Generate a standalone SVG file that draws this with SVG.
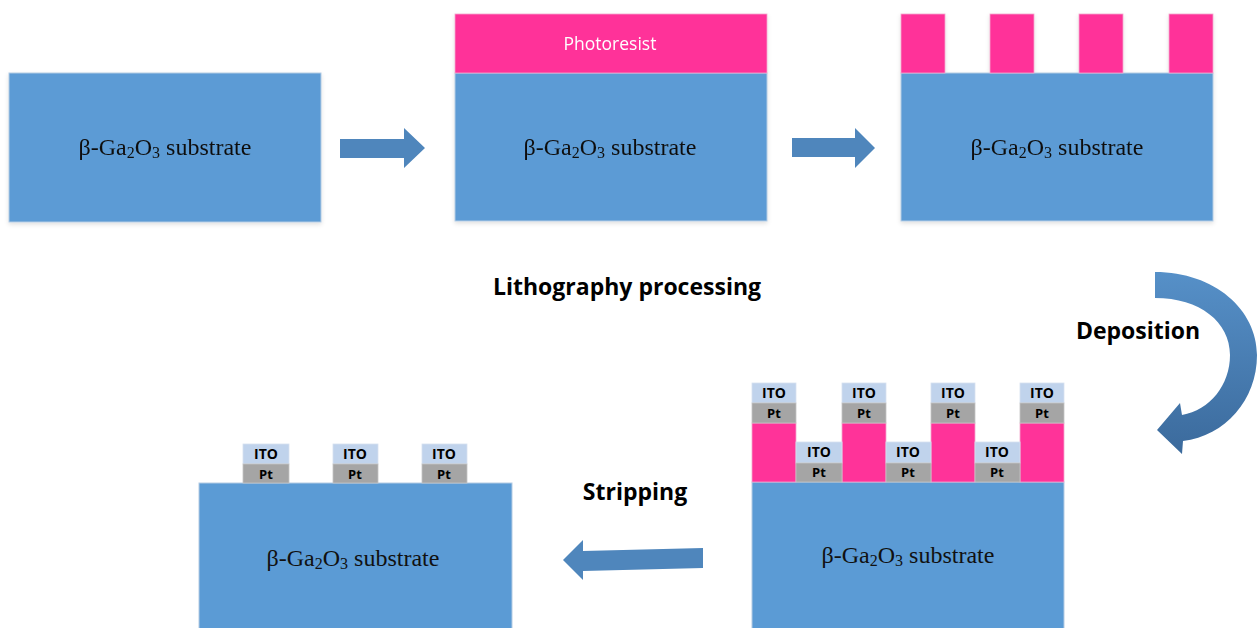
<svg xmlns="http://www.w3.org/2000/svg" width="1257" height="628" viewBox="0 0 1257 628">
<defs>
<style>
.sub{fill:#5B9BD5;stroke:#B4CBE3;stroke-width:1}
.pr{fill:#FF3399;stroke:#F2A6CC;stroke-width:0.8}
.ito{fill:#C0D3EC;stroke:#D6E1EF;stroke-width:0.8}
.pt{fill:#A5A5A5;stroke:#C4C4C4;stroke-width:0.8}
.st{font-family:"Liberation Serif","Times New Roman",serif;font-size:24px;fill:#111;text-anchor:middle}
.st tspan.s{font-size:16px}
.lb{font-family:"Open Sans","Liberation Sans",sans-serif;font-weight:bold;font-size:23px;fill:#000}
.it{font-family:"Open Sans","Liberation Sans",sans-serif;font-weight:bold;font-size:14px;fill:#000;text-anchor:middle}
.pl{font-family:"Open Sans","Liberation Sans",sans-serif;font-weight:bold;font-size:13px;fill:#000;text-anchor:middle}
.arr{fill:#4F86BC}
</style>
<filter id="sh" x="-5%" y="-5%" width="110%" height="115%">
<feDropShadow dx="0" dy="2" stdDeviation="2" flood-color="#000" flood-opacity="0.12"/>
</filter>
<linearGradient id="cg" x1="0" y1="0" x2="0" y2="1">
<stop offset="0" stop-color="#5690C8"/>
<stop offset="1" stop-color="#3B6A9C"/>
</linearGradient>
</defs>

<g id="step1" filter="url(#sh)">
<rect class="sub" x="9" y="73" width="312" height="149"/>
<text class="st" x="165" y="155">β-Ga<tspan class="s" dy="3">2</tspan><tspan dy="-3">O</tspan><tspan class="s" dy="3">3</tspan><tspan dy="-3"> substrate</tspan></text>
</g>

<g id="step2" filter="url(#sh)">
<rect class="sub" x="455" y="73" width="312" height="148"/>
<rect class="pr" x="455" y="14" width="312" height="59"/>
<text x="610" y="50" font-family="'Open Sans','Liberation Sans',sans-serif" font-size="17.5" fill="#fff" text-anchor="middle">Photoresist</text>
<text class="st" x="610" y="155">β-Ga<tspan class="s" dy="3">2</tspan><tspan dy="-3">O</tspan><tspan class="s" dy="3">3</tspan><tspan dy="-3"> substrate</tspan></text>
</g>

<g id="step3" filter="url(#sh)">
<rect class="sub" x="901" y="73" width="312" height="148"/>
<rect class="pr" x="901" y="14" width="44" height="59"/>
<rect class="pr" x="990" y="14" width="44" height="59"/>
<rect class="pr" x="1079" y="14" width="44" height="59"/>
<rect class="pr" x="1169" y="14" width="44" height="59"/>
<text class="st" x="1057" y="155">β-Ga<tspan class="s" dy="3">2</tspan><tspan dy="-3">O</tspan><tspan class="s" dy="3">3</tspan><tspan dy="-3"> substrate</tspan></text>
</g>

<g id="step4">
<rect class="sub" x="752" y="482" width="312" height="150"/>
<rect class="pr" x="752" y="423" width="44" height="59"/>
<rect class="pr" x="842" y="423" width="44" height="59"/>
<rect class="pr" x="931" y="423" width="44" height="59"/>
<rect class="pr" x="1020" y="423" width="44" height="59"/>
<rect class="ito" x="752" y="383" width="44" height="20"/><rect class="pt" x="752" y="403" width="44" height="20"/>
<rect class="ito" x="842" y="383" width="44" height="20"/><rect class="pt" x="842" y="403" width="44" height="20"/>
<rect class="ito" x="931" y="383" width="44" height="20"/><rect class="pt" x="931" y="403" width="44" height="20"/>
<rect class="ito" x="1020" y="383" width="44" height="20"/><rect class="pt" x="1020" y="403" width="44" height="20"/>
<rect class="ito" x="796" y="442" width="46" height="21"/><rect class="pt" x="796" y="463" width="46" height="19"/>
<rect class="ito" x="886" y="442" width="45" height="21"/><rect class="pt" x="886" y="463" width="45" height="19"/>
<rect class="ito" x="975" y="442" width="45" height="21"/><rect class="pt" x="975" y="463" width="45" height="19"/>
<text class="it" x="774" y="398">ITO</text><text class="pl" x="774" y="418">Pt</text>
<text class="it" x="864" y="398">ITO</text><text class="pl" x="864" y="418">Pt</text>
<text class="it" x="953" y="398">ITO</text><text class="pl" x="953" y="418">Pt</text>
<text class="it" x="1042" y="398">ITO</text><text class="pl" x="1042" y="418">Pt</text>
<text class="it" x="819" y="457">ITO</text><text class="pl" x="819" y="477">Pt</text>
<text class="it" x="908" y="457">ITO</text><text class="pl" x="908" y="477">Pt</text>
<text class="it" x="997" y="457">ITO</text><text class="pl" x="997" y="477">Pt</text>
<text class="st" x="908" y="563">β-Ga<tspan class="s" dy="3">2</tspan><tspan dy="-3">O</tspan><tspan class="s" dy="3">3</tspan><tspan dy="-3"> substrate</tspan></text>
</g>

<g id="step5">
<rect class="sub" x="199" y="483" width="313" height="150"/>
<rect class="ito" x="243" y="444" width="46" height="20"/><rect class="pt" x="243" y="464" width="46" height="19"/>
<rect class="ito" x="333" y="444" width="45" height="20"/><rect class="pt" x="333" y="464" width="45" height="19"/>
<rect class="ito" x="422" y="444" width="45" height="20"/><rect class="pt" x="422" y="464" width="45" height="19"/>
<text class="it" x="266" y="459">ITO</text><text class="pl" x="266" y="479">Pt</text>
<text class="it" x="355" y="459">ITO</text><text class="pl" x="355" y="479">Pt</text>
<text class="it" x="444" y="459">ITO</text><text class="pl" x="444" y="479">Pt</text>
<text class="st" x="353" y="566">β-Ga<tspan class="s" dy="3">2</tspan><tspan dy="-3">O</tspan><tspan class="s" dy="3">3</tspan><tspan dy="-3"> substrate</tspan></text>
</g>

<g id="connectors">
<polygon class="arr" points="340,139 404,139 404,128 425,148 404,168 404,158 340,158"/>
<polygon class="arr" points="792,138 855,138 855,128 875,148 855,168 855,157 792,157"/>
<path fill="url(#cg)" d="M1155,272 C1215,272 1257,310 1257,355 C1257,400 1225,436 1183,441 L1182,454 L1157,430 L1180,403 L1182,415 C1210,410 1230,385 1230,355 C1230,322 1200,298 1155,298 Z"/>
<polygon class="arr" points="703,548 703,568 583,571 583,580 563,560 583,540 583,551"/>
</g>

<g id="labels">
<text class="lb" x="627" y="295" text-anchor="middle">Lithography processing</text>
<text class="lb" x="1138" y="339" text-anchor="middle">Deposition</text>
<text class="lb" x="635" y="500" text-anchor="middle">Stripping</text>
</g>
</svg>
